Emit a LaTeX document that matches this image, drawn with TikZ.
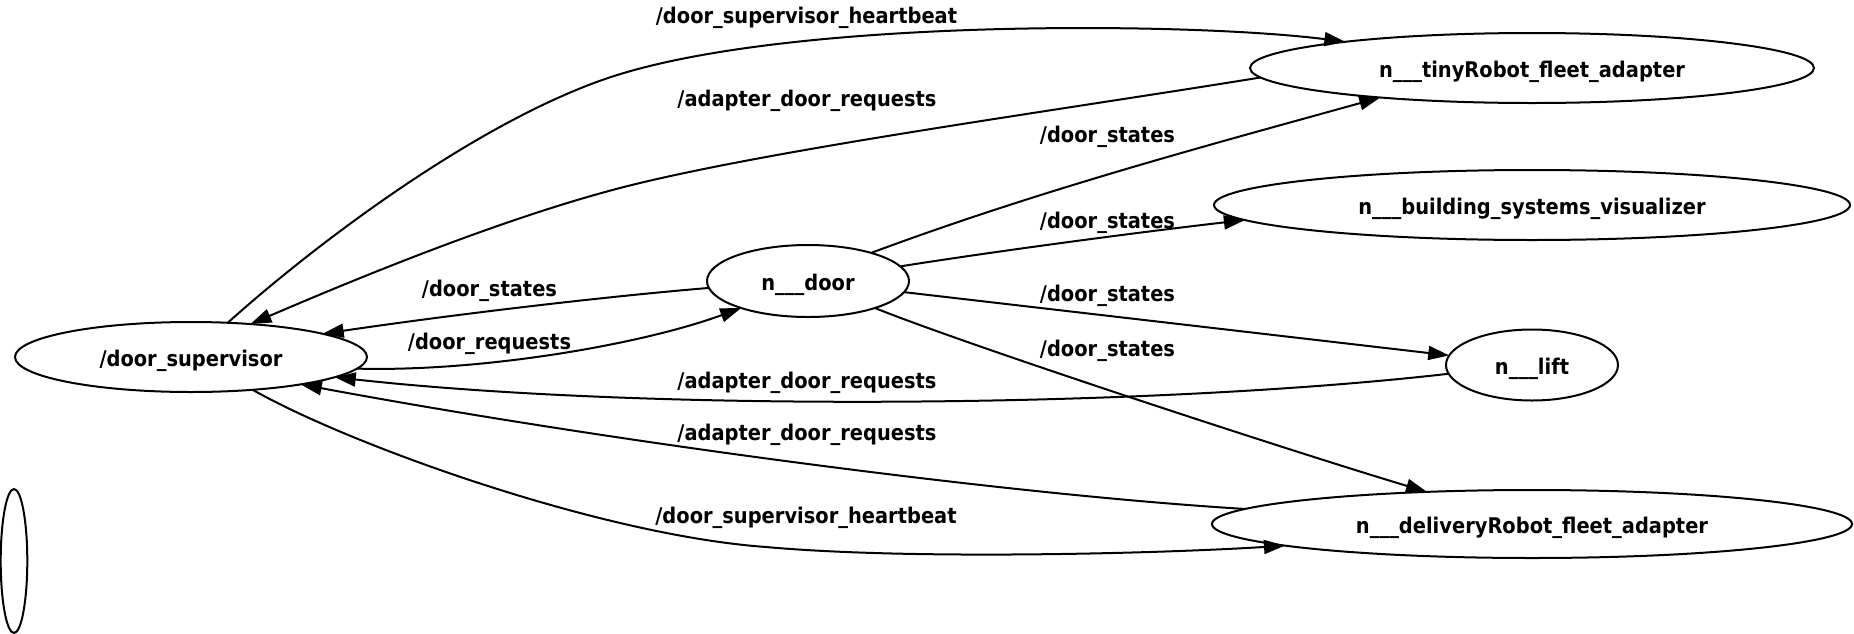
\documentclass[tikz,border=0pt]{standalone}
\usepackage{fontspec}
\newfontfamily\lblfont[FakeStretch=0.9]{DejaVu Sans}
\usetikzlibrary{shapes.geometric,arrows.meta}
\begin{document}
\begin{tikzpicture}[x=0.5pt,y=-0.5pt,
  every node/.style={font={\lblfont\bfseries\fontsize{10.8pt}{13pt}\selectfont}},
  nd/.style n args={2}{ellipse,draw,line width=1pt,inner sep=0pt,outer sep=0pt,minimum width=#1,minimum height=#2,text height=9.3pt,text depth=0pt},
  conn/.style={draw,line width=1pt,-{Triangle[length=10.5pt,width=7pt]}},
  lbl/.style={anchor=base,inner sep=0pt}]
\useasboundingbox (0,0) rectangle (1854,633);
% nodes
\node[nd={176pt}{35pt}] (ds) at (191,357) {/door\_supervisor};
\node[nd={13.3pt}{72pt}] (empty) at (14,561) {};
\node[nd={101pt}{36pt}] (door) at (808,281) {n\_\_\_door};
\node[nd={282pt}{35pt}] (tr) at (1532,68) {n\_\_\_tinyRobot\_fleet\_adapter};
\node[nd={318pt}{35pt}] (bsv) at (1532,205) {n\_\_\_building\_systems\_visualizer};
\node[nd={86pt}{35.5pt}] (lift) at (1532,365) {n\_\_\_lift};
\node[nd={320pt}{34pt}] (dr) at (1532,524) {n\_\_\_deliveryRobot\_fleet\_adapter};
% edges
\draw[conn] (ds.43.4) .. controls (320,240) and (481,120) .. (611,77) .. controls (790,18) and (1190,22) .. (tr.172.4);
\draw[conn] (tr.182.8) .. controls (1060,110) and (790,147) .. (640,183) .. controls (510,214) and (344,284) .. (ds.29.1);
\draw[conn] (door.24) .. controls (1043,189) and (1213,144) .. (tr.191.4);
\draw[conn] (door.9.3) .. controls (990,252) and (1140,232) .. (bsv.183.9);
\draw[conn] (door) -- (lift);
\draw[conn] (door.338.1) .. controls (975,348) and (1297,453) .. (dr.163.5);
\draw[conn] (door.184.6) .. controls (600,297) and (450,315) .. (ds.10);
\draw[conn] (ds.356.7) .. controls (480,372) and (640,345) .. (door.202.9);
\draw[conn] (lift.186.2) .. controls (1150,408) and (650,412) .. (ds.352.6);
\draw[conn] (dr.177) .. controls (1000,494) and (600,440) .. (ds.346.7);
\draw[conn] (ds.332) .. controls (350,445) and (600,535) .. (766,547) .. controls (916,560.5) and (1170,553) .. (dr.185.7);
% labels
\node[lbl] (l1) at (806.5,23.3) {/door\_supervisor\_heartbeat};
\node[lbl] (l2) at (807,106.5) {/adapter\_door\_requests};
\node[lbl] (l3) at (1107.5,142.5) {/door\_states};
\node[lbl] (l4) at (1107.5,228) {/door\_states};
\node[lbl] (l5) at (1107.5,301.5) {/door\_states};
\node[lbl] (l6) at (1107.5,356.5) {/door\_states};
\node[lbl] (l7) at (489.5,296.5) {/door\_states};
\node[lbl] (l8) at (489.5,349.7) {/door\_requests};
\node[lbl] (l9) at (807,388.5) {/adapter\_door\_requests};
\node[lbl] (l10) at (807,440.2) {/adapter\_door\_requests};
\node[lbl] (l11) at (806,523.5) {/door\_supervisor\_heartbeat};
\end{tikzpicture}
\end{document}
